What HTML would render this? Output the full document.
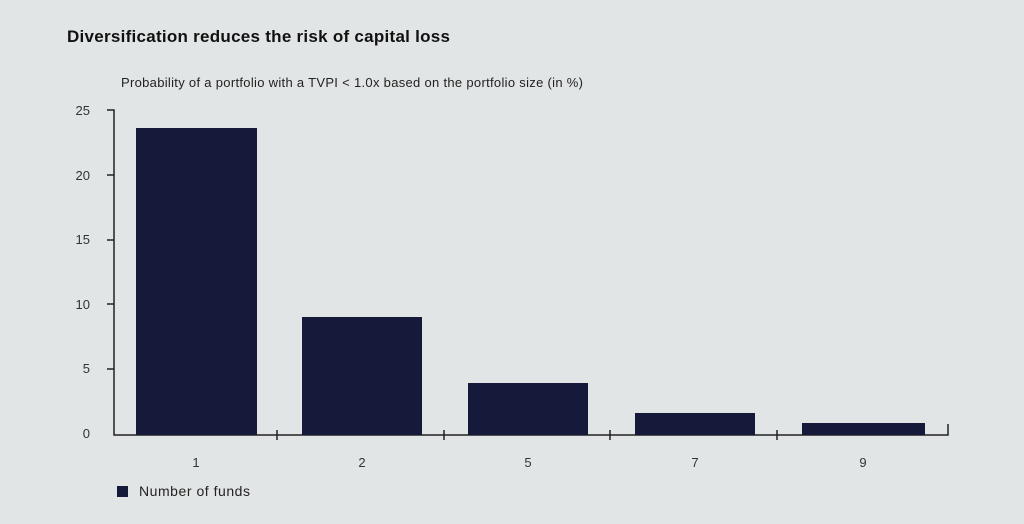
<!DOCTYPE html><html><head><style>
body{margin:0;width:1024px;height:519px;background:#e2e5e6;font-family:"Liberation Sans",sans-serif;overflow:hidden}
</style></head><body>
<svg width="1024" height="519" xmlns="http://www.w3.org/2000/svg">
<text x="67" y="42" font-size="17" font-weight="bold" fill="#111" textLength="383">Diversification reduces the risk of capital loss</text>
<text x="121" y="87" font-size="13" fill="#222" textLength="462">Probability of a portfolio with a TVPI &lt; 1.0x based on the portfolio size (in %)</text>
<g stroke="#222" stroke-width="1.5" fill="none">
<polyline points="107,110 114,110 114,435 948,435 948,424"/>
<line x1="107" y1="175" x2="114" y2="175"/><line x1="107" y1="240" x2="114" y2="240"/>
<line x1="107" y1="304" x2="114" y2="304"/><line x1="107" y1="369" x2="114" y2="369"/>
<line x1="277" y1="430" x2="277" y2="440"/><line x1="444" y1="430" x2="444" y2="440"/>
<line x1="610" y1="430" x2="610" y2="440"/><line x1="777" y1="430" x2="777" y2="440"/>
</g>
<g font-size="13" fill="#333" text-anchor="end">
<text x="90" y="115">25</text><text x="90" y="180">20</text><text x="90" y="244">15</text>
<text x="90" y="309">10</text><text x="90" y="373">5</text><text x="90" y="438">0</text>
</g>
<g fill="#161a3a">
<rect x="136" y="128" width="121" height="307"/>
<rect x="302" y="317" width="120" height="118"/>
<rect x="468" y="383" width="120" height="52"/>
<rect x="635" y="413" width="120" height="22"/>
<rect x="802" y="423" width="123" height="12"/>
</g>
<g font-size="13" fill="#333" text-anchor="middle">
<text x="196" y="467">1</text><text x="362" y="467">2</text><text x="528" y="467">5</text>
<text x="695" y="467">7</text><text x="863" y="467">9</text>
</g>
<rect x="117" y="486" width="11" height="11" fill="#161a3a"/>
<text x="139" y="496" font-size="14" fill="#222" textLength="111">Number of funds</text>
</svg>
</body></html>
